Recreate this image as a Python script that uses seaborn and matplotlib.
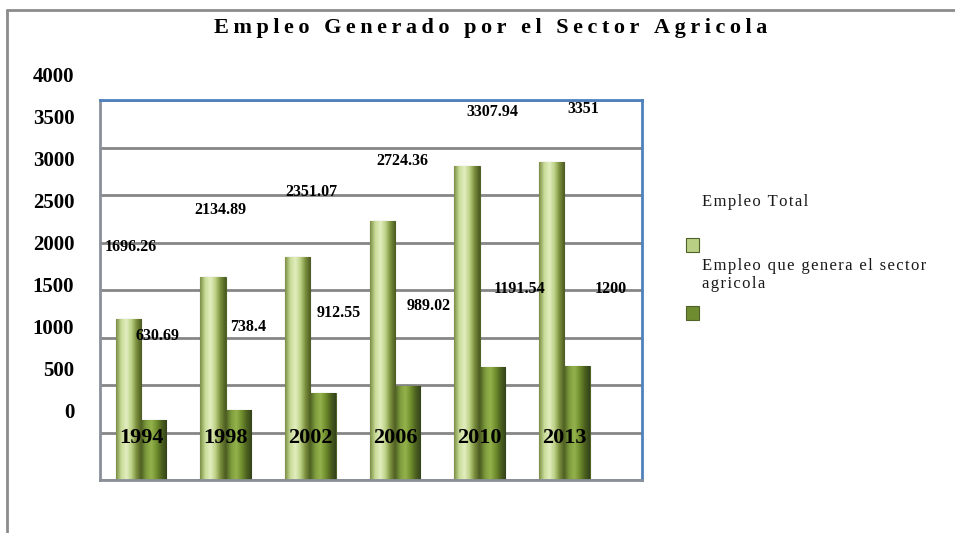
import textwrap
import numpy as np
import pandas as pd
import matplotlib
matplotlib.use('Agg')
import matplotlib.pyplot as plt
import seaborn as sns
from matplotlib.colors import LinearSegmentedColormap
from matplotlib.patches import Rectangle
from matplotlib.lines import Line2D
from matplotlib.transforms import blended_transform_factory

# data
years = ['1994', '1998', '2002', '2006', '2010', '2013']
empleo_total = [1696.26, 2134.89, 2351.07, 2724.36, 3307.94, 3351]
empleo_agricola = [630.69, 738.4, 912.55, 989.02, 1191.54, 1200]
series = ['Empleo Total', 'Empleo que genera el sector agricola']
y_ticks = [0, 500, 1000, 1500, 2000, 2500, 3000, 3500, 4000]
title = 'Empleo Generado por el Sector Agricola'

df = pd.DataFrame({
    'year': years * 2,
    'value': empleo_total + empleo_agricola,
    'serie': [series[0]] * len(years) + [series[1]] * len(years),
})

sns.set_style('white')
serif = ['Liberation Serif', 'DejaVu Serif']
plt.rcParams['font.family'] = serif
plt.rcParams['text.color'] = 'black'
plt.rcParams['ytick.color'] = 'black'
plt.rcParams['ytick.labelcolor'] = 'black'


def spaced(s, sp='\u200a'):
    # the original text is letter spaced
    return '\n'.join(sp.join(line) for line in s.split('\n'))


W, H = 955, 533
fig = plt.figure(figsize=(W / 100, H / 100), dpi=100)


def box(x0, y0, x1, y1):
    return [x0 / W, 1 - y1 / H, (x1 - x0) / W, (y1 - y0) / H]


# outer frame (only left and top visible)
fig.add_artist(Line2D([7 / W, 7 / W], [0, 1 - 10 / H], color='#8c8c8c', lw=2, transform=fig.transFigure))
fig.add_artist(Line2D([7 / W, 1], [1 - 10 / H, 1 - 10 / H], color='#8c8c8c', lw=2, transform=fig.transFigure))

ax = fig.add_axes(box(100, 100, 642, 480))
pal = {series[0]: '#b9cf83', series[1]: '#6f8c30'}
sns.barplot(data=df, x='year', y='value', hue='serie', hue_order=series, order=years,
            palette=pal, width=0.6, legend=False, ax=ax, zorder=2)
ax.set_xlim(-0.485, 5.92)
ax.set_ylim(0, 4000)
ax.set_yticks(y_ticks)
ax.set_yticklabels([])
ax.set_xticks([])
ax.set_xlabel('')
ax.set_ylabel('')
ax.tick_params(length=0)
ax.yaxis.grid(True, color='#868686', lw=2)
ax.set_axisbelow(True)
for side in ['left', 'bottom']:
    ax.spines[side].set_color('#8a8f99')
for side in ['top', 'right']:
    ax.spines[side].set_color('#4f81bd')
for s in ax.spines.values():
    s.set_linewidth(2)

# cylinder shading on the bars
cmaps = [
    LinearSegmentedColormap.from_list('t', ['#7d8f45', '#c9dc98', '#e2eebf', '#bdd186', '#7a8d3c', '#4b5a22']),
    LinearSegmentedColormap.from_list('a', ['#4e6123', '#7f9d3e', '#93b24c', '#72902f', '#4d621f', '#33421a']),
]
grad = np.linspace(0, 1, 64).reshape(1, -1)
for cont, cmap in zip(ax.containers, cmaps):
    for p in cont:
        x, w, h = p.get_x(), p.get_width(), p.get_height()
        im = ax.imshow(grad, cmap=cmap, extent=[x, x + w, 0, h], aspect='auto', zorder=2.1)
        im.set_clip_path(p)
        p.set_edgecolor('#4f6228')
        p.set_linewidth(0.8)
ax.set_xlim(-0.485, 5.92)
ax.set_ylim(0, 4000)

# year labels sit inside the plot
tr = blended_transform_factory(ax.transData, ax.transAxes)
for i, yr in enumerate(years):
    ax.text(i, 0.11, yr, transform=tr, ha='center', va='center', fontsize=16,
            fontweight='bold', color='black', zorder=5)

# value axis and data labels are drawn on a shifted layer
ax2 = fig.add_axes(box(100, 75, 680, 410))
ax2.patch.set_visible(False)
ax2.set_xlim(-0.485, 5.92)
ax2.set_ylim(0, 4000)
ax2.set_xticks([])
ax2.set_yticks(y_ticks)
ax2.set_yticklabels([str(t) for t in y_ticks], fontsize=15, fontweight='bold', color='black')
ax2.tick_params(axis='y', length=0, pad=18.5)
for s in ax2.spines.values():
    s.set_visible(False)

for vals, off in [(empleo_total, -0.15), (empleo_agricola, 0.15)]:
    for i, v in enumerate(vals):
        ax2.annotate(f'{v:g}', (i + off, v), xytext=(0, 15), textcoords='offset points',
                     ha='center', va='center', fontsize=11.5, fontweight='bold', color='black')

# legend drawn by hand, marker under each label
leg_y = [202, 275]
sq_y = [245, 313]
for name, ly, sy in zip(series, leg_y, sq_y):
    fig.text(702 / W, 1 - ly / H, spaced(textwrap.fill(name, 28)), ha='left', va='center',
             fontsize=12, linespacing=1.25, color='#1a1a1a')
    fig.add_artist(Rectangle((686 / W, 1 - (sy + 7) / H), 13 / W, 14 / H, facecolor=pal[name],
                             edgecolor='#4f6228', lw=0.8, transform=fig.transFigure))

fig.text(491 / W, 1 - 28 / H, spaced(title, '\u2009'), ha='center', va='center', fontsize=16,
         fontweight='bold', color='black')

fig.savefig('out.png', dpi=100)
